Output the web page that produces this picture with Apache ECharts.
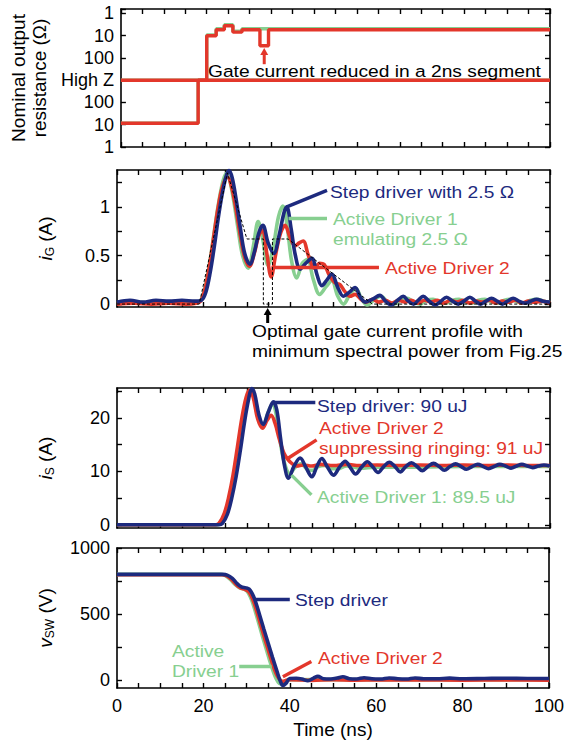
<!DOCTYPE html>
<html><head><meta charset="utf-8">
<script src="https://cdn.jsdelivr.net/npm/echarts@6/dist/echarts.min.js"></script>
<style>html,body{margin:0;padding:0;background:#fff}#c{width:567px;height:745px}</style>
</head><body><div id="c"></div>
<script>
// ---------------- DATA ----------------
const timeTicks = [0, 20, 40, 60, 80, 100];
const resLevelLabels = ['1', '10', '100', 'High Z', '100', '10', '1']; // level 0..6 (bottom->top)
const igTickLabels = [0, 0.5, 1];
const isTickLabels = [0, 10, 20];
const vswTickLabels = [0, 500, 1000];

// Nominal output resistance (axis level units: pull-down half 0..3, pull-up half 3..6)
const ad2PullUp = [[0,3],[20,5.0],[22.2,5.27],[24.1,5.45],[26.1,5.16],[28.2,5.27],[32.4,4.55],[34.4,5.27],[100,5.27]];
const ad1PullUp = [[0,3],[20,5.03],[22.2,5.31],[24.1,5.49],[26.1,5.2],[28.2,5.31],[32.4,5.31],[34.4,5.31],[100,5.31]];
const pullDown  = [[0,1.07],[18,3],[100,3]];

// Gate current iG (A)
const igStep = [[0,0.02],[3,0.04],[6,0.02],[9,0.04],[12,0.03],[15,0.04],[18,0.03],[19.5,0.04],[20.5,0.12],[21.5,0.32],[22.5,0.6],[23.5,0.92],[24.5,1.18],[25.3,1.33],[25.9,1.375],[26.6,1.3],[27.5,1.08],[28.5,0.78],[29.5,0.52],[30.7,0.41],[31.8,0.55],[32.8,0.74],[33.7,0.81],[34.9,0.63],[36.2,0.52],[37.5,0.72],[38.5,0.93],[39.2,1.0],[40.2,0.78],[41.2,0.5],[42.3,0.36],[43.6,0.42],[45,0.47],[46.2,0.3],[47.3,0.19],[48.5,0.25],[49.6,0.31],[51,0.17],[52.3,0.08],[53.6,0.12],[55,0.17],[56.2,0.07],[57.3,0.02],[59,0.05],[60.7,0.09],[62,0.03],[63.4,-0.01],[64.8,0.04],[66.1,0.08],[67.3,0.03],[68.5,0.0],[69.6,0.04],[70.7,0.08],[72.1,0.03],[73.5,-0.01],[74.8,0.03],[76.1,0.07],[77.5,0.03],[78.8,0.0],[80.1,0.03],[81.5,0.07],[82.8,0.03],[84,0.0],[85.2,0.03],[86.5,0.06],[87.8,0.03],[89,0.0],[90.2,0.03],[91.5,0.06],[92.8,0.03],[94.2,0.01],[95.5,0.03],[96.9,0.05],[98.4,0.03],[100,0.02]];
const igActive1 = [[0,0.01],[4,0.02],[8,0.01],[12,0.02],[16,0.01],[18.5,0.02],[19.5,0.05],[20.5,0.2],[21.5,0.45],[22.5,0.76],[23.5,1.05],[24.5,1.27],[25.3,1.345],[26,1.28],[27,1.05],[28,0.76],[29,0.5],[30.3,0.37],[31.5,0.6],[32.6,0.85],[33.6,0.68],[34.9,0.4],[36.2,0.62],[37.3,0.9],[38.3,1.01],[39.3,0.8],[40.3,0.45],[41.5,0.27],[42.8,0.42],[44,0.46],[45.3,0.26],[46.8,0.1],[48.3,0.18],[49.6,0.24],[51,0.08],[52.3,0.0],[53.8,0.1],[55.2,0.16],[56.5,0.05],[57.8,-0.01],[59.5,0.05],[61,0.08],[62.5,0.02],[64,0.0],[65.5,0.05],[67,0.06],[68.5,0.02],[70,0.0],[71.5,0.04],[73,0.05],[74.5,0.02],[76,0.01],[77.5,0.04],[79,0.05],[80.5,0.02],[82,0.01],[83.5,0.04],[85,0.05],[86.5,0.02],[88,0.01],[89.5,0.04],[91,0.05],[92.5,0.02],[94,0.01],[95.5,0.04],[97,0.05],[98.5,0.03],[100,0.02]];
const igActive2 = [[0,0.0],[4,0.01],[8,0.0],[12,0.01],[16,0.0],[18.3,0.01],[19.3,0.03],[20.3,0.15],[21.3,0.38],[22.3,0.68],[23.3,0.98],[24.3,1.2],[25.5,1.31],[26.5,1.2],[27.5,0.97],[28.5,0.7],[29.5,0.48],[30.6,0.39],[31.7,0.52],[32.7,0.7],[33.6,0.76],[34.6,0.52],[35.6,0.28],[36.6,0.5],[37.7,0.72],[38.8,0.81],[40,0.68],[41.1,0.6],[42.1,0.63],[43,0.65],[44.2,0.5],[45.6,0.37],[46.8,0.42],[47.8,0.41],[49,0.3],[50.3,0.22],[51.5,0.2],[52.6,0.13],[53.8,0.08],[55,0.1],[56.3,0.05],[57.5,0.02],[59,0.05],[60.5,0.02],[62,0.04],[63.5,0.01],[65,0.04],[66.5,0.02],[68,0.04],[69.5,0.01],[71,0.04],[72.5,0.02],[74,0.04],[75.5,0.01],[77,0.04],[78.5,0.02],[80,0.04],[81.5,0.01],[83,0.03],[84.5,0.02],[86,0.04],[87.5,0.01],[89,0.03],[90.5,0.02],[92,0.04],[93.5,0.01],[95,0.03],[96.5,0.02],[98,0.03],[100,0.01]];
const igOptimal = [[0,0],[19,0],[25.5,1.35],[30,0.67],[33.8,0.67],[33.8,0],[35.9,0],[35.9,0.67],[39.5,0.67],[59,0],[100,0]];

// Source current iS (A)
const isStep = [[0,0],[10,0],[20,0],[23.5,0],[24.3,0.2],[25.5,2],[26.5,5],[27.5,9],[28.5,14],[29.5,19.5],[30.4,23.5],[31.1,25.5],[31.8,24.5],[32.8,20.5],[33.8,18.8],[34.9,21],[36.1,23],[36.9,21.5],[37.8,16],[38.7,11],[39.6,8.7],[40.9,11],[42.3,12.5],[43.6,10.8],[45,9.0],[46.2,11],[47.3,12.4],[48.6,10.8],[50,9.3],[51.4,10.8],[52.7,11.9],[53.9,10.7],[55.1,9.5],[56.5,10.8],[57.8,11.8],[59.1,10.8],[60.3,9.8],[61.6,10.9],[62.9,11.7],[64.2,10.9],[65.4,9.9],[66.7,10.9],[68,11.6],[69.3,10.9],[70.5,10.1],[71.8,10.9],[73.1,11.5],[74.4,10.9],[75.6,10.2],[76.9,10.9],[78.2,11.4],[79.5,10.9],[80.7,10.4],[82,10.9],[83.3,11.3],[84.6,10.9],[85.8,10.5],[87.1,10.9],[88.4,11.3],[89.7,11],[91,10.6],[92.3,11],[93.5,11.3],[94.8,11],[96,10.7],[97.3,11],[98.6,11.2],[100,11]];
const isActive2 = [[0,0],[10,0],[20,0],[22.8,0],[23.6,0.3],[24.8,2.2],[25.8,5.2],[26.8,9.3],[27.8,14.5],[28.8,19.8],[29.8,23.8],[30.6,25.2],[31.4,24],[32.5,19.8],[33.6,18.1],[34.7,19.6],[35.6,20.5],[36.5,19],[37.5,16],[38.5,13.5],[39.5,12.2],[40.5,11.4],[41.5,11.0],[43,11.2],[45,11.0],[47,11.3],[50,11.1],[53,11.3],[56,11.1],[60,11.2],[65,11.1],[70,11.2],[75,11.1],[80,11.2],[85,11.1],[90,11.2],[95,11.1],[100,11.1]];
const isActive1 = [[0,0],[10,0],[20,0],[23.1,0],[23.9,0.2],[25,2],[26,5],[27,9],[28,14],[29,19.3],[30,23.5],[30.8,25.3],[31.6,24],[32.6,20],[33.7,18.5],[34.8,20.8],[35.9,22.6],[36.8,20.5],[37.7,15.5],[38.7,11.5],[39.9,9.6],[41.2,10.8],[42.5,11.4],[43.9,10.4],[45.2,10.2],[46.5,10.9],[48,11.1],[49.5,10.5],[51,10.5],[53,11.0],[56,10.6],[60,10.8],[70,10.8],[80,10.9],[90,10.9],[100,10.9]];

// Switching-node voltage vSW (V)
const vswStep = [[0,800],[10,800],[20,800],[24.5,800],[25.5,795],[26.7,770],[27.8,730],[28.8,705],[29.8,698],[30.6,688],[31.3,655],[32,600],[33,495],[34,385],[35,278],[36,172],[37,70],[37.8,-8],[38.4,-40],[39.1,-25],[40,12],[41.5,14],[42.8,8],[44.2,-5],[45.5,15],[46.5,28],[47.8,10],[49.5,8],[51,15],[52.3,25],[53.8,10],[55.5,8],[57.2,18],[59,10],[61,8],[63,16],[65,10],[67,8],[69,16],[71,10],[74,10],[77,15],[80,10],[85,12],[90,14],[95,12],[100,12]];
const vswActive2 = [[0,798],[10,798],[20,798],[24.3,798],[25.3,790],[26.5,763],[27.6,723],[28.6,698],[29.6,688],[30.4,672],[31.1,635],[31.8,578],[32.8,470],[33.8,358],[34.8,250],[35.8,145],[36.8,52],[37.6,8],[38.3,-10],[39.2,-2],[40,2],[45,-2],[50,2],[55,-1],[60,1],[70,2],[80,0],[90,1],[100,0]];
const vswActive1 = [[0,800],[10,800],[20,800],[24.1,800],[25.1,790],[26.3,760],[27.4,722],[28.4,698],[29.4,688],[30.2,670],[30.9,626],[31.6,566],[32.6,455],[33.6,340],[34.6,230],[35.6,122],[36.6,28],[37.3,-15],[38,-32],[38.8,-12],[39.6,2],[45,4],[60,3],[80,3],[100,3]];

// ---------------- STYLE / LAYOUT ----------------
const FONT = '"Liberation Sans", Arial, Helvetica, sans-serif';
const COL = { blue: '#1d2a7e', red: '#e3372b', green: '#87cf90', black: '#000' };
const FS = 18;     // tick labels
const AFS = 17;    // annotations
const TXT_STRETCH = 1.13;
const gridDefs = [
  { left: 117, right: 17, top: 9, height: 138 },
  { left: 117, right: 17, top: 170, height: 137 },
  { left: 117, right: 17, top: 388, height: 140 },
  { left: 117, right: 17, top: 548, height: 140 }
];
const lineAx = { show: true, onZero: false, lineStyle: { color: '#000', width: 1.6 } };
const tickAx = { show: true, inside: true, length: 5, lineStyle: { color: '#000', width: 1.4 } };
const labelBase = { color: '#000', fontSize: FS, fontFamily: FONT };

const xAxes = [];
for (let pos of ['bottom', 'top']) {
  gridDefs.forEach((g, i) => {
    const showLab = pos === 'bottom' && i === 3;
    xAxes.push({
      gridIndex: i, type: 'value', position: pos, min: 0, max: 100, interval: 5,
      axisLine: lineAx, axisTick: tickAx, splitLine: { show: false },
      axisLabel: Object.assign({ show: showLab, margin: 9,
        formatter: v => timeTicks.includes(v) ? String(v) : '' }, labelBase),
      name: showLab ? 'Time (ns)' : '', nameLocation: 'middle', nameGap: 32,
      nameTextStyle: { color: '#000', fontSize: 19, fontFamily: FONT }
    });
  });
}

const yRanges = [
  { min: 0, max: 6.2 },
  { min: -0.03, max: 1.38, ticks: [0, 0.25, 0.5, 0.75, 1, 1.25], labels: igTickLabels },
  { min: -0.6, max: 25.6, ticks: [0, 5, 10, 15, 20, 25], labels: isTickLabels },
  { min: -60, max: 1000, ticks: [0, 250, 500, 750, 1000], labels: vswTickLabels }
];
const richName = {
  i: { fontStyle: 'italic', fontSize: 19, fontFamily: FONT, color: '#000', lineHeight: 22 },
  s: { fontSize: 12, fontFamily: FONT, color: '#000', verticalAlign: 'bottom', lineHeight: 22 },
  n: { fontSize: 19, fontFamily: FONT, color: '#000', lineHeight: 22 }
};
const yNames = [
  'Nominal output\nresistance (Ω)',
  '{i|i}{s|G}{n| (A)}',
  '{i|i}{s|S}{n| (A)}',
  '{i|v}{s|SW}{n| (V)}'
];
const yAxes = [];
for (let side of ['left', 'right']) {
  gridDefs.forEach((g, i) => {
    const r = yRanges[i];
    const left = side === 'left';
    const ax = {
      gridIndex: i, type: 'value', position: side, min: r.min, max: r.max,
      axisLine: lineAx, splitLine: { show: false },
      axisTick: Object.assign({}, tickAx),
      axisLabel: Object.assign({ show: left, margin: 7 }, labelBase)
    };
    if (i === 0) {
      ax.interval = 1;
      ax.axisLabel.formatter = v => (Number.isInteger(v) && v >= 0 && v <= 6) ? resLevelLabels[v] : '';
    } else {
      ax.axisTick.customValues = r.ticks;
      ax.axisLabel.customValues = r.labels;
      ax.axisLabel.formatter = v => String(v);
    }
    if (left) {
      ax.name = yNames[i];
      ax.nameLocation = 'middle';
      ax.nameRotate = 90;
      ax.nameGap = i === 0 ? 66 : 61;
      ax.nameTextStyle = i === 0
        ? { color: '#000', fontSize: 19, fontFamily: FONT, lineHeight: 21 }
        : { rich: richName };
    }
    yAxes.push(ax);
  });
}

function leader(color, pts) {
  return {
    silent: true, symbol: ['none', 'none'], animation: false,
    label: { show: false }, emphasis: { disabled: true },
    lineStyle: { color: color, width: 3.4, type: 'solid', opacity: 1 },
    data: [[{ coord: pts[0] }, { coord: pts[1] }]]
  };
}
function ln(name, g, data, color, opts) {
  return Object.assign({
    name: name, type: 'line', xAxisIndex: g, yAxisIndex: g, data: data,
    showSymbol: false, symbol: 'none', smooth: 0.35, clip: false,
    lineStyle: { color: color, width: 3.6 }, itemStyle: { color: color },
    emphasis: { disabled: true }, silent: true, animation: false
  }, opts || {});
}

const series = [
  // panel 1
  ln('AD1 pull-up', 0, ad1PullUp, COL.green, { smooth: false, step: 'end', lineStyle: { color: COL.green, width: 3.4 } }),
  ln('AD1 pull-down', 0, pullDown, COL.green, { smooth: false, step: 'end', lineStyle: { color: COL.green, width: 3.4 } }),
  ln('AD2 pull-down', 0, pullDown, COL.red, { smooth: false, step: 'end', lineStyle: { color: COL.red, width: 3.4 } }),
  ln('AD2 pull-up', 0, ad2PullUp, COL.red, { smooth: false, step: 'end', lineStyle: { color: COL.red, width: 3.4 } }),
  // panel 2
  ln('Active Driver 1', 1, igActive1, COL.green, { markLine: leader(COL.green, [[39.6, 0.88], [48.5, 0.88]]) }),
  ln('Active Driver 2', 1, igActive2, COL.red, { markLine: leader(COL.red, [[35.7, 0.38], [60.5, 0.38]]) }),
  ln('Step driver', 1, igStep, COL.blue, { markLine: leader(COL.blue, [[39.2, 1.0], [48.5, 1.17]]) }),
  ln('Optimal profile', 1, igOptimal, '#000', { smooth: false, z: 5, lineStyle: { color: '#000', width: 1, type: [3, 2] } }),
  // panel 3
  ln('Active Driver 1', 2, isActive1, COL.green, { markLine: leader(COL.green, [[40.3, 9.3], [44.9, 5.6]]) }),
  ln('Active Driver 2', 2, isActive2, COL.red, { markLine: leader(COL.red, [[39.6, 12.5], [46.1, 15.9]]) }),
  ln('Step driver', 2, isStep, COL.blue, { markLine: leader(COL.blue, [[36.3, 22.9], [45.8, 22.9]]) }),
  // panel 4
  ln('Active Driver 1', 3, vswActive1, COL.green, { markLine: leader(COL.green, [[28.3, 102], [35.8, 102]]) }),
  ln('Active Driver 2', 3, vswActive2, COL.red, { markLine: leader(COL.red, [[38.4, 25], [45, 140]]) }),
  ln('Step driver', 3, vswStep, COL.blue, { markLine: leader(COL.blue, [[31.9, 615], [40, 615]]) })
];

const option = {
  animation: false,
  backgroundColor: '#fff',
  textStyle: { fontFamily: FONT },
  grid: gridDefs,
  xAxis: xAxes,
  yAxis: yAxes,
  series: series
};

const chart = echarts.init(document.getElementById('c'), null, { renderer: 'svg' });
chart.setOption(option);

// ---------------- ANNOTATIONS ----------------
function txt(text, x, y, color) {
  return {
    type: 'text', silent: true, z: 100, x: x, y: y, scaleX: TXT_STRETCH, scaleY: 1,
    style: { text: text, x: 0, y: 0, fill: color, fontSize: AFS, fontFamily: FONT,
      textAlign: 'left', textVerticalAlign: 'middle', verticalAlign: 'middle', lineHeight: 20 }
  };
}
const p = (g, pt) => chart.convertToPixel({ xAxisIndex: g, yAxisIndex: g }, pt);
const aTop = p(0, [33.4, 3.72]), aTopTip = p(0, [33.4, 4.45]);
const aIg = p(1, [34.8, 0]);
const gBottom1 = gridDefs[1].top + gridDefs[1].height;
function arrow(x, yTail, yTip, color) {
  return [
    { type: 'line', silent: true, z: 100, shape: { x1: x, y1: yTail, x2: x, y2: yTip + 5 }, style: { stroke: color, lineWidth: 3 } },
    { type: 'polygon', silent: true, z: 100, shape: { points: [[x - 4, yTip + 7], [x + 4, yTip + 7], [x, yTip]] }, style: { fill: color } }
  ];
}
const graphics = [
  txt('Gate current reduced in a 2ns segment', 208, 71, '#000'),
  txt('Step driver with 2.5 Ω', 330, 192, COL.blue),
  txt('Active Driver 1\nemulating 2.5 Ω', 333, 229, COL.green),
  txt('Active Driver 2', 385, 268, COL.red),
  txt('Optimal gate current profile with\nminimum spectral power from Fig.25', 252, 341, '#000'),
  txt('Step driver: 90 uJ', 317, 406, COL.blue),
  txt('Active Driver 2\nsuppressing ringing: 91 uJ', 319, 438, COL.red),
  txt('Active Driver 1: 89.5 uJ', 317, 497, COL.green),
  txt('Step driver', 295, 600, COL.blue),
  txt('Active Driver 2', 318, 658, COL.red),
  txt('Active\nDriver 1', 172, 661, COL.green)
].concat(arrow(aTop[0], aTop[1], aTopTip[1], COL.red))
 .concat(arrow(aIg[0], gBottom1 + 16, gBottom1 + 1, '#000'));
chart.setOption({ graphic: graphics });
</script>
</body></html>
